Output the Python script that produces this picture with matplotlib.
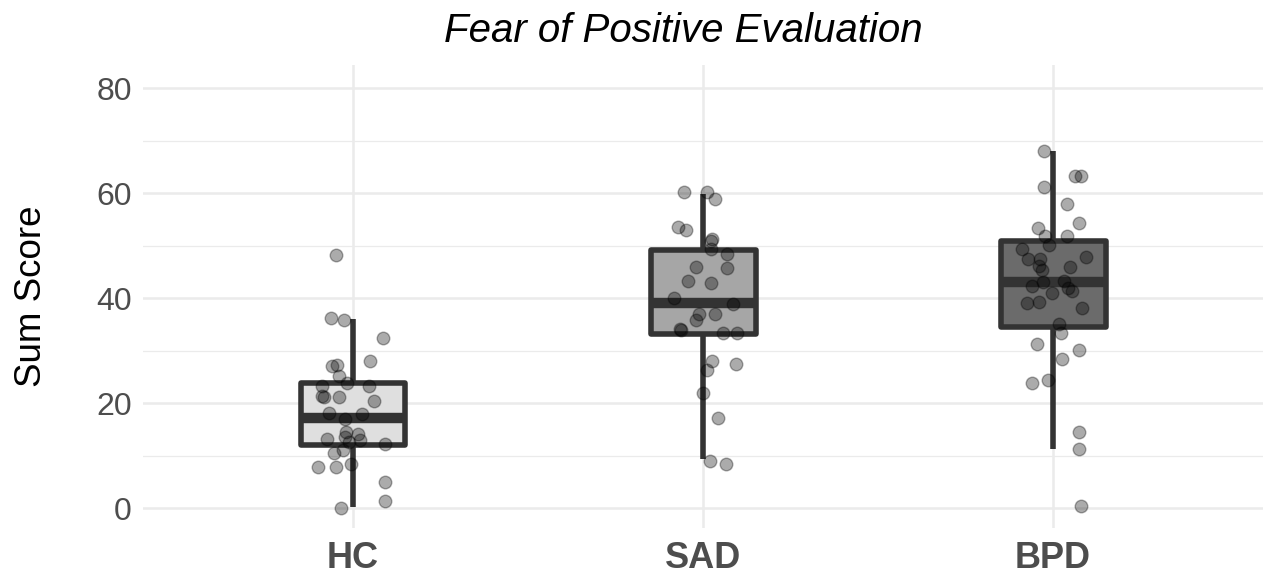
import matplotlib
matplotlib.use("Agg")
import matplotlib.pyplot as plt
import numpy as np

plt.rcParams['font.family'] = ['Liberation Sans', 'DejaVu Sans']

categories = ["HC", "SAD", "BPD"]
fills = ["#dfdfdf", "#a6a6a6", "#6b6b6b"]

# box statistics: whisker low, q1, median, q3, whisker high
hc_box = [0.2, 12.0, 17.1, 23.8, 36.1]
sad_box = [9.3, 33.1, 39.1, 49.1, 59.9]
bpd_box = [11.2, 34.5, 43.0, 50.9, 68.1]

# jittered raw points: values and horizontal jitter (category units)
hc_vals = [48.3, 36.2, 35.9, 32.4, 28.1, 27.1, 27.2, 25.1, 23.9, 23.2, 23.2,
           21.4, 21.2, 21.2, 20.3, 18.2, 18.0, 16.9, 14.4, 14.2, 13.5, 13.1,
           13.0, 12.6, 12.2, 11.0, 10.5, 7.9, 7.9, 8.3, 4.9, 1.4, 0.1]
hc_jit = [-0.048, -0.064, -0.026, 0.086, 0.048, -0.060, -0.045, -0.040, -0.017,
          -0.090, 0.046, -0.088, -0.083, -0.040, 0.060, -0.069, 0.026, -0.022,
          -0.021, 0.014, -0.023, -0.074, 0.020, -0.011, 0.091, -0.029, -0.053,
          -0.099, -0.050, -0.005, 0.091, 0.091, -0.034]

sad_vals = [60.3, 60.3, 58.9, 53.5, 52.9, 51.2, 50.9, 49.3, 48.4, 46.0, 45.8,
            43.2, 42.9, 40.1, 38.9, 37.0, 37.0, 35.9, 34.2, 33.9, 33.3, 33.3,
            28.1, 27.4, 26.3, 22.0, 17.1, 9.0, 8.4]
sad_jit = [-0.054, 0.012, 0.034, -0.071, -0.049, 0.025, 0.023, 0.022, 0.068,
           -0.020, 0.068, -0.043, 0.024, -0.083, 0.086, -0.011, 0.033, -0.021,
           -0.066, -0.064, 0.058, 0.097, 0.026, 0.095, 0.012, 0.000, 0.043,
           0.019, 0.065]

bpd_vals = [68.1, 63.3, 63.2, 61.2, 57.9, 54.3, 53.4, 51.9, 51.9, 50.2, 49.4,
            47.9, 47.4, 47.4, 46.1, 46.0, 45.3, 43.0, 43.2, 42.3, 42.0, 41.3,
            41.0, 39.1, 39.2, 38.2, 35.0, 33.3, 31.3, 30.1, 28.3, 23.9, 24.3,
            14.4, 11.2, 0.4]
bpd_jit = [-0.027, 0.062, 0.080, -0.027, 0.040, 0.073, -0.044, -0.023, 0.040,
           -0.011, -0.089, 0.093, -0.072, -0.037, -0.039, 0.049, -0.032, -0.030,
           0.032, -0.060, 0.044, 0.055, -0.003, -0.075, -0.041, 0.084, 0.016,
           0.023, -0.047, 0.073, 0.027, -0.061, -0.015, 0.075, 0.075, 0.080]

box_data = [hc_box, sad_box, bpd_box]
point_vals = [hc_vals, sad_vals, bpd_vals]
point_jit = [hc_jit, sad_jit, bpd_jit]

fig = plt.figure(figsize=(12.65, 5.73), dpi=100)
ax = fig.add_axes([143 / 1265, (573 - 528) / 573, (1263 - 143) / 1265, (528 - 65) / 573])

positions = np.arange(1, len(categories) + 1)
stats = []
for name, b in zip(categories, box_data):
    stats.append(dict(label=name, whislo=b[0], q1=b[1], med=b[2], q3=b[3],
                      whishi=b[4], fliers=[]))

edge = "#333333"
bp = ax.bxp(stats, positions=positions, widths=0.3, patch_artist=True,
            showcaps=False, showfliers=False,
            boxprops=dict(edgecolor=edge, linewidth=4.0, joinstyle='round'),
            whiskerprops=dict(color=edge, linewidth=4.0, solid_capstyle='butt'),
            medianprops=dict(color=edge, linewidth=7.5, solid_capstyle='butt'),
            zorder=2)
for patch, fc in zip(bp['boxes'], fills):
    patch.set_facecolor(fc)

for pos, vals, jit in zip(positions, point_vals, point_jit):
    xs = pos + np.array(jit)
    ax.scatter(xs, vals, s=82, color="black", alpha=0.33, edgecolors="black",
               linewidths=1.0, zorder=3)

ax.set_xlim(0.4, 3.6)
ax.set_ylim(-3.8, 84.4)
ax.set_yticks([0, 20, 40, 60, 80])
ax.set_yticks([10, 30, 50, 70], minor=True)
ax.set_xticks(positions)
ax.set_xticklabels(categories, fontsize=26, fontweight='bold', color="#4d4d4d")
ax.tick_params(axis='y', labelsize=23, labelcolor="#4d4d4d", length=0, pad=8)
ax.tick_params(axis='x', length=0, pad=9)
ax.tick_params(which='minor', length=0)

ax.grid(True, which='major', color="#ebebeb", linewidth=1.8, zorder=0)
ax.grid(True, which='minor', axis='y', color="#ebebeb", linewidth=0.9, zorder=0)
ax.set_axisbelow(True)
for s in ax.spines.values():
    s.set_visible(False)

ax.set_ylabel("Sum Score", fontsize=26.5, color="black", labelpad=34)
fig.text(683 / 1265, 1 - 31 / 573, "Fear of Positive Evaluation", fontsize=29,
         style='italic', ha='center', va='center', color="black")

fig.savefig("out.png", dpi=100)
